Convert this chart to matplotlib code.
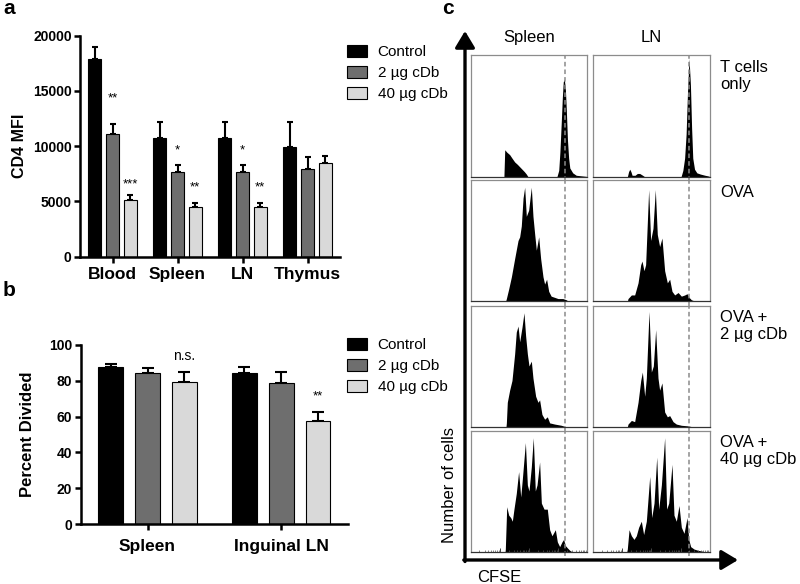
import matplotlib
matplotlib.use('Agg')
import numpy as np
from matplotlib import pyplot as plt
from matplotlib.patches import Patch

plt.rcParams['font.family'] = ['Liberation Sans', 'DejaVu Sans']

# colours for the three treatment groups
col_ctrl = 'black'
col_2ug = '#6e6e6e'
col_40ug = '#d9d9d9'
legend_labels = ['Control', '2 \u00b5g cDb', '40 \u00b5g cDb']

# panel a : CD4 MFI
a_groups = ['Blood', 'Spleen', 'LN', 'Thymus']
a_ctrl = [17900, 10750, 10750, 9950]
a_ctrl_err = [1040, 1470, 1470, 2260]
a_2ug = [11070, 7650, 7650, 7950]
a_2ug_err = [910, 670, 670, 1070]
a_40ug = [5120, 4450, 4450, 8500]
a_40ug_err = [460, 430, 430, 610]
a_stars_2ug = ['**', '*', '*', '']
a_stars_2ug_y = [14360, 9630, 9630, 0]
a_stars_40ug = ['***', '**', '**', '']
a_stars_40ug_y = [6550, 6250, 6250, 0]

# panel b : percent divided
b_groups = ['Spleen', 'Inguinal LN']
b_ctrl = [87.7, 84.1]
b_ctrl_err = [1.9, 3.6]
b_2ug = [84.1, 78.9]
b_2ug_err = [3.2, 6.0]
b_40ug = [79.4, 57.8]
b_40ug_err = [5.6, 5.0]
b_stars_40ug = ['n.s.', '**']
b_stars_40ug_y = [93.8, 71.0]

# panel c : CFSE histograms (x = % of panel width, h = % of panel height)
c_cols = ['Spleen', 'LN']
c_rows = ['T cells\nonly', 'OVA', 'OVA +\n2 \u00b5g cDb', 'OVA +\n40 \u00b5g cDb']
c_gate = [80.6, 82.3]

spl_tcells_x = [0, 28.5, 29.2, 31, 33.4, 35.5, 37.7, 40, 43, 46, 47.7, 49, 74, 75.5, 76.5, 77.7, 78.6, 79.4,
                80.3, 81.2, 82, 83, 84, 85, 87.5, 90.5, 100]
spl_tcells_h = [0, 0, 22, 20, 18, 15, 12, 10, 7, 4, 2, 0, 0, 5, 20, 45, 65, 78, 80, 72, 55, 30, 15, 7, 3, 1, 0]
ln_tcells_x = [0, 29.5, 30.5, 31.5, 32.5, 33.5, 36, 38, 40, 42.5, 44, 75.5, 77, 78.5, 79.8, 81, 82.3, 83.5,
               84.5, 85.5, 87, 89, 92, 96, 98.5, 100]
ln_tcells_h = [0, 0, 4, 6, 4, 1, 1, 2.5, 2.5, 1, 0, 0, 5, 15, 35, 70, 97, 75, 40, 15, 6, 3, 2, 1, 0.5, 0]

spl_ova_x = [0, 30, 30.6, 32.6, 34.9, 37.7, 40.6, 42, 43.4, 44.9, 46.3, 47.7, 49.7, 52, 53.4, 54.9, 56.3, 58.3,
             60, 62, 63.4, 65.1, 66.9, 69, 72, 74.9, 79, 82, 83.4, 100]
spl_ova_h = [0, 0, 2, 10, 20, 35, 50, 53, 62, 85, 94, 70, 75, 94, 70, 55, 42, 53, 35, 20, 14, 18, 8, 4, 3, 2,
             2, 1, 0, 0]
ln_ova_x = [0, 29.5, 30, 32.9, 35.7, 38.6, 40.9, 42, 43.7, 45.1, 47.7, 49.4, 51.4, 53.4, 55.1, 57.1, 59.1,
            61.4, 63.7, 65.7, 67.7, 70, 72.9, 75.7, 78.6, 80.6, 82.3, 84.3, 87, 100]
ln_ova_h = [0, 0, 2, 5, 5, 15, 30, 33, 25, 30, 92, 50, 60, 92, 55, 45, 52, 25, 15, 18, 8, 5, 7, 4, 5, 6, 3, 1,
            0, 0]

spl_2ug_x = [0, 30.3, 30.6, 31.4, 33.4, 35.4, 37.7, 39.1, 40.6, 42, 44, 45.7, 47.1, 48.6, 50, 52, 53.4, 55.7,
             57.7, 59.1, 61.1, 63.4, 65.7, 67.7, 72, 77.7, 81, 100]
spl_2ug_h = [0, 0, 3, 20, 30, 38, 60, 78, 83, 70, 82, 94, 75, 60, 50, 54, 40, 25, 20, 22, 10, 6, 8, 3, 2, 1,
             0, 0]
ln_2ug_x = [0, 29.5, 30, 32.9, 35.7, 38.6, 40.9, 42.3, 44.3, 45.7, 48, 50, 51.7, 53.7, 55.7, 57.1, 59.1, 61.4,
            63.7, 65.7, 68.6, 71.4, 75.7, 81.4, 84, 100]
ln_2ug_h = [0, 0, 2, 5, 4, 20, 38, 45, 25, 40, 95, 45, 50, 80, 40, 30, 36, 12, 8, 9, 4, 2, 1, 0.5, 0, 0]

spl_40ug_x = [0, 29.5, 29.7, 30.9, 32.6, 34.3, 35.7, 37.1, 39.1, 41.1, 42.9, 44.3, 46.9, 48.6, 50, 52, 53.7,
              55.4, 56.9, 59.1, 60.6, 62.9, 65.7, 67.7, 69.7, 72.6, 74.3, 76.3, 78.3, 79.7, 81.1, 82.9, 84.9,
              86.5, 100]
spl_40ug_h = [0, 0, 2, 37, 30, 28, 25, 35, 48, 66, 45, 60, 90, 55, 50, 70, 94, 50, 55, 74, 40, 35, 35, 18, 13,
              18, 8, 4, 8, 10, 5, 3, 1, 0, 0]
ln_40ug_x = [0, 29, 29.4, 30.9, 32.9, 35.1, 37.1, 39.1, 41.4, 43.4, 45.7, 48.6, 50.3, 52.3, 54.6, 56.3, 58.6,
             61.4, 63.1, 64.9, 67.7, 69.4, 71.4, 73.7, 75.7, 78, 80.6, 82, 83.7, 86.6, 90, 95, 100]
ln_40ug_h = [0, 0, 2, 18, 13, 10, 13, 20, 25, 14, 25, 62, 28, 40, 78, 35, 55, 94, 35, 40, 72, 30, 25, 38, 20,
             15, 28, 10, 4, 2, 1, 0, 0]

hists = [[(spl_tcells_x, spl_tcells_h), (ln_tcells_x, ln_tcells_h)],
         [(spl_ova_x, spl_ova_h), (ln_ova_x, ln_ova_h)],
         [(spl_2ug_x, spl_2ug_h), (ln_2ug_x, ln_2ug_h)],
         [(spl_40ug_x, spl_40ug_h), (ln_40ug_x, ln_40ug_h)]]

W, H = 800, 584
fig = plt.figure(figsize=(8, 5.84), dpi=100)


def px_axes(left, top, right, bottom):
    # axes from pixel box
    return fig.add_axes([left / W, 1 - bottom / H, (right - left) / W, (bottom - top) / H])


# overlay for arrows and free labels
over = fig.add_axes([0, 0, 1, 1])
over.set_xlim(0, W)
over.set_ylim(H, 0)
over.axis('off')


def style_bar_axes(ax, xpad):
    for s in ['top', 'right']:
        ax.spines[s].set_visible(False)
    for s in ['left', 'bottom']:
        ax.spines[s].set_linewidth(1.8)
    ax.tick_params(width=1.8, length=4.5)
    ax.tick_params(axis='y', pad=1.5, labelsize=10)
    ax.tick_params(axis='x', pad=xpad, labelsize=12.5)
    for lab in ax.get_yticklabels() + ax.get_xticklabels():
        lab.set_fontweight('bold')


def grouped_bars(ax, n, off, width, series, capsize):
    for k, (vals, errs, col) in enumerate(series):
        xs = [i + (k - 1) * off for i in range(n)]
        ax.bar(xs, vals, width, color=col, edgecolor='black', linewidth=0.8, zorder=2)
        ax.errorbar(xs, vals, yerr=[[0] * n, errs], fmt='none', ecolor='black', elinewidth=1.5,
                    capsize=capsize, capthick=1.5, zorder=1)


def add_legend(ax, top_px):
    handles = [Patch(facecolor=c, edgecolor='black', linewidth=0.8) for c in [col_ctrl, col_2ug, col_40ug]]
    ax.legend(handles, legend_labels, loc='upper left', bbox_to_anchor=(347 / W, 1 - top_px / H),
              bbox_transform=fig.transFigure, frameon=False, borderpad=0, borderaxespad=0,
              handlelength=1.3, handleheight=0.8, handletextpad=0.7, labelspacing=0.45, fontsize=11)


# ---- panel a
ax_a = px_axes(80, 35.7, 340, 256.5)
grouped_bars(ax_a, 4, 0.27, 0.2,
             [(a_ctrl, a_ctrl_err, col_ctrl), (a_2ug, a_2ug_err, col_2ug), (a_40ug, a_40ug_err, col_40ug)], 2.5)
ax_a.set_xlim(-0.5, 3.5)
ax_a.set_ylim(0, 20000)
ax_a.set_yticks([0, 5000, 10000, 15000, 20000])
ax_a.set_xticks(range(4))
ax_a.set_xticklabels(a_groups)
ax_a.set_ylabel('CD4 MFI', fontsize=11.5, fontweight='bold', labelpad=4)
style_bar_axes(ax_a, 3)
for i in range(4):
    if a_stars_2ug[i]:
        ax_a.text(i, a_stars_2ug_y[i], a_stars_2ug[i], ha='center', va='center', fontsize=9.5)
    if a_stars_40ug[i]:
        ax_a.text(i + 0.27, a_stars_40ug_y[i], a_stars_40ug[i], ha='center', va='center', fontsize=9.5)
add_legend(ax_a, 45)

# ---- panel b
ax_b = px_axes(80.7, 345, 348, 524)
grouped_bars(ax_b, 2, 0.275, 0.185,
             [(b_ctrl, b_ctrl_err, col_ctrl), (b_2ug, b_2ug_err, col_2ug), (b_40ug, b_40ug_err, col_40ug)], 4.5)
ax_b.set_xlim(-0.5, 1.5)
ax_b.set_ylim(0, 100)
ax_b.set_yticks([0, 20, 40, 60, 80, 100])
ax_b.set_xticks(range(2))
ax_b.set_xticklabels(b_groups)
ax_b.set_ylabel('Percent Divided', fontsize=12, fontweight='bold', labelpad=10)
style_bar_axes(ax_b, 6.5)
for i in range(2):
    ax_b.text(i + 0.275, b_stars_40ug_y[i], b_stars_40ug[i], ha='center', va='center',
              fontsize=10 if b_stars_40ug[i] == 'n.s.' else 9.5)
add_legend(ax_b, 338)

# ---- panel c
col_px = [(470.7, 587.3), (593, 709.7)]
row_px = [(55, 176.5), (180, 301), (305.5, 426.5), (430.5, 551.5)]
# log-style tick marks along the CFSE axis (4 decades across the panel)
dec_ticks = [25 * d for d in range(5)]
minor_ticks = [25 * (d + np.log10(k)) for d in range(4) for k in range(2, 10)]
for r, (top, bot) in enumerate(row_px):
    for c, (left, right) in enumerate(col_px):
        ax = px_axes(left, top, right, bot)
        hx, hh = hists[r][c]
        ax.fill_between(hx, hh, color='black', linewidth=0)
        ax.set_xlim(0, 100)
        ax.set_ylim(0, 100)
        ax.axvline(c_gate[c], ymin=-0.04, ymax=1, clip_on=False, color='#8a8a8a', lw=1.1, ls=(0, (3, 2)))
        for s in ax.spines.values():
            s.set_color('#8c8c8c')
            s.set_linewidth(0.9)
        ax.spines['bottom'].set_color('#333333')
        ax.set_yticks([])
        if r == 3:
            ax.set_xticks(dec_ticks, [])
            ax.set_xticks(minor_ticks, minor=True)
            ax.tick_params(axis='x', which='major', direction='in', length=3, width=0.7, color='#444444')
            ax.tick_params(axis='x', which='minor', direction='in', length=1.5, width=0.5, color='#555555')
        else:
            ax.set_xticks([])
        if r == 0:
            ax.text(0.5, 1.14, c_cols[c], transform=ax.transAxes, ha='center', va='center', fontsize=12)
        if c == 1:
            ax.text(1.09, 0.96, c_rows[r], transform=ax.transAxes, ha='left', va='top', fontsize=12,
                    linespacing=1.15)

over.annotate('', xy=(465, 31), xytext=(465, 561.5),
              arrowprops=dict(arrowstyle='-|>,head_length=0.5,head_width=0.3', lw=2.4, color='black',
                              mutation_scale=20, shrinkA=0, shrinkB=0))
over.annotate('', xy=(738, 560), xytext=(463.8, 560),
              arrowprops=dict(arrowstyle='-|>,head_length=0.5,head_width=0.3', lw=2.4, color='black',
                              mutation_scale=20, shrinkA=0, shrinkB=0))
over.text(449, 485, 'Number of cells', rotation=90, ha='center', va='center', fontsize=12)
over.text(499, 577, 'CFSE', ha='center', va='center', fontsize=12)

# panel letters
over.text(9, 8, 'a', ha='center', va='center', fontsize=15, fontweight='bold')
over.text(9, 290, 'b', ha='center', va='center', fontsize=15, fontweight='bold')
over.text(448, 8, 'c', ha='center', va='center', fontsize=15, fontweight='bold')

fig.savefig('out.png', dpi=100)
